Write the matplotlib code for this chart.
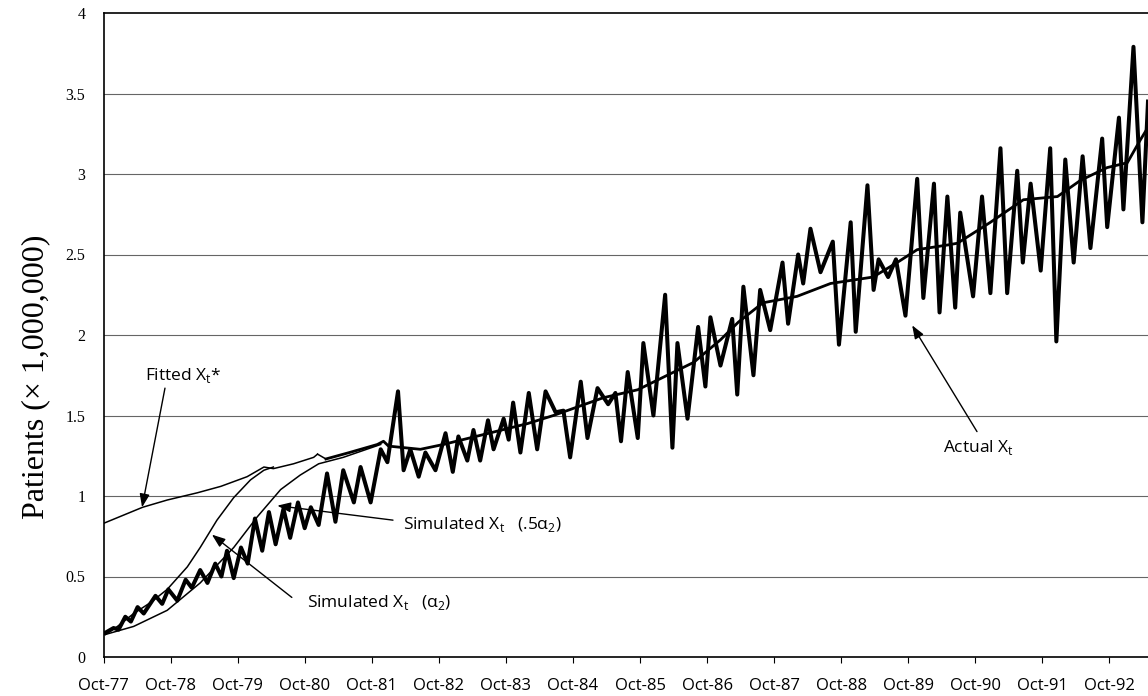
import matplotlib
matplotlib.use("Agg")
import matplotlib.pyplot as plt
import numpy as np

# months since Oct-77
actual_m = [0.3, 1.8, 2.7, 3.9, 4.9, 6.1, 7.2, 9.3, 10.5, 11.6, 13.2, 14.7, 15.8, 17.3, 18.6,
            20.0, 21.1, 22.1, 23.3, 24.6, 25.8, 27.1, 28.4, 29.6, 30.8, 32.2, 33.4, 34.8, 36.0,
            37.1, 38.5, 40.0, 41.5, 42.9, 44.8, 46.0, 47.8, 49.6, 50.8, 52.7, 53.7, 54.9, 56.4,
            57.6, 59.4, 61.2, 62.5, 63.5, 65.1, 66.2, 67.4, 68.8, 69.8, 71.6, 72.5, 73.3, 74.6,
            76.1, 77.6, 79.1, 80.9, 82.3, 83.5, 85.4, 86.6, 88.4, 90.3, 91.6, 92.6, 93.8, 95.6,
            96.6, 98.4, 100.5, 101.8, 102.7, 104.5, 106.4, 107.7, 108.6, 110.4, 112.5, 113.4,
            114.5, 116.3, 117.5, 119.3, 121.5, 122.5, 124.3, 125.2, 126.5, 128.3, 130.5, 131.6,
            133.7, 134.6, 136.7, 137.8, 138.7, 140.4, 141.8, 143.5, 145.6, 146.7, 148.6, 149.6,
            151.0, 152.4, 153.3, 155.6, 157.2, 158.7, 160.5, 161.7, 163.5, 164.5, 165.9, 167.7,
            169.4, 170.5, 172.1, 173.6, 175.2, 176.6, 178.7, 179.6, 181.7, 182.5, 184.3, 185.9,
            186.9]
actual_v = [0.15, 0.18, 0.17, 0.25, 0.22, 0.31, 0.27, 0.38, 0.33, 0.42, 0.35, 0.48, 0.43, 0.54, 0.46,
            0.58, 0.50, 0.66, 0.49, 0.68, 0.58, 0.86, 0.66, 0.90, 0.70, 0.92, 0.74, 0.96, 0.80,
            0.93, 0.82, 1.14, 0.84, 1.16, 0.96, 1.18, 0.96, 1.29, 1.21, 1.65, 1.16, 1.29, 1.12,
            1.27, 1.16, 1.39, 1.15, 1.37, 1.22, 1.41, 1.22, 1.47, 1.29, 1.48, 1.35, 1.58, 1.27,
            1.64, 1.29, 1.65, 1.52, 1.53, 1.24, 1.71, 1.36, 1.67, 1.57, 1.64, 1.34, 1.77, 1.36,
            1.95, 1.50, 2.25, 1.30, 1.95, 1.48, 2.05, 1.68, 2.11, 1.81, 2.10, 1.63,
            2.30, 1.75, 2.28, 2.03, 2.45, 2.07, 2.50, 2.32, 2.66, 2.39, 2.58, 1.94,
            2.70, 2.02, 2.93, 2.28, 2.47, 2.36, 2.47, 2.12, 2.97, 2.23, 2.94, 2.14,
            2.86, 2.17, 2.76, 2.24, 2.86, 2.26, 3.16, 2.26, 3.02, 2.45, 2.94, 2.40,
            3.16, 1.96, 3.09, 2.45, 3.11, 2.54, 3.22, 2.67, 3.35, 2.78, 3.79, 2.70,
            3.45]

fitted_m = [0.0, 7.0, 11.4, 16.8, 21.0, 25.7, 28.7, 30.4, 34.0, 37.6, 38.3, 39.8, 44.0, 49.0,
            50.1, 51.0, 56.7, 60.8, 67.8, 75.9, 80.5, 89.4, 95.6, 100.3, 105.6, 110.4, 113.6,
            118.0, 124.1, 130.1, 137.7, 142.0, 145.6, 151.2, 152.8, 158.7, 164.6, 170.7, 174.8,
            179.6, 183.2, 185.5, 186.9]
fitted_v = [0.83, 0.93, 0.975, 1.02, 1.06, 1.12, 1.18, 1.17, 1.20, 1.24, 1.26, 1.23, 1.27, 1.32,
            1.34, 1.31, 1.29, 1.32, 1.38, 1.45, 1.50, 1.61, 1.66, 1.74, 1.83, 1.97, 2.08,
            2.20, 2.24, 2.32, 2.36, 2.45, 2.53, 2.56, 2.57, 2.70, 2.84, 2.86, 2.96,
            3.04, 3.07, 3.21, 3.29]

sim_a2_m = [0.35, 2.5, 5.4, 8.5, 11.4, 15.0, 17.3, 20.3, 23.3, 26.3, 28.7, 30.4]
sim_a2_v = [0.14, 0.19, 0.27, 0.34, 0.42, 0.56, 0.68, 0.85, 0.99, 1.10, 1.16, 1.18]

sim_half_m = [0.35, 5.4, 11.4, 17.3, 23.3, 27.5, 31.7, 35.2, 38.5, 42.9, 49.6]
sim_half_v = [0.14, 0.19, 0.29, 0.46, 0.68, 0.87, 1.04, 1.13, 1.20, 1.24, 1.32]

tick_labels = ["Oct-77", "Oct-78", "Oct-79", "Oct-80", "Oct-81", "Oct-82", "Oct-83", "Oct-84",
               "Oct-85", "Oct-86", "Oct-87", "Oct-88", "Oct-89", "Oct-90", "Oct-91", "Oct-92"]

fig = plt.figure(figsize=(11.48, 6.96), dpi=100)
ax = fig.add_axes([103.5 / 1148, 39 / 696, 1044.5 / 1148, 644 / 696])

for g in [0.5, 1, 1.5, 2, 2.5, 3, 3.5]:
    ax.axhline(g, color="#666666", lw=0.8, zorder=1)

fm = np.array(fitted_m)
fv = np.array(fitted_v)
thin = fm <= 38.3
ax.plot(fm[thin], fv[thin], color="black", lw=1.1, zorder=3)
ax.plot(fm[~thin], fv[~thin], color="black", lw=2.0, zorder=3)
ax.plot([fm[thin][-1], fm[~thin][0]], [fv[thin][-1], fv[~thin][0]], color="black", lw=1.1, zorder=3)
ax.plot(sim_a2_m, sim_a2_v, color="black", lw=1.1, zorder=3)
ax.plot(sim_half_m, sim_half_v, color="black", lw=1.1, zorder=3)
ax.plot(actual_m, actual_v, color="black", lw=2.9, solid_joinstyle="round", zorder=4)

ax.set_xlim(0, 186.9)
ax.set_ylim(0, 4)
ax.set_xticks(np.arange(0, 181, 12))
ax.set_xticklabels(tick_labels, fontfamily="Open Sans", fontsize=12)
ax.set_yticks([0, 0.5, 1, 1.5, 2, 2.5, 3, 3.5, 4])
ax.set_yticklabels(["0", "0.5", "1", "1.5", "2", "2.5", "3", "3.5", "4"],
                   fontfamily="Liberation Serif", fontsize=11.5)
ax.tick_params(axis="x", direction="out", length=4, width=0.8, pad=11)
ax.tick_params(axis="y", length=0, pad=13)
ax.spines["right"].set_visible(False)
for s in ["left", "bottom", "top"]:
    ax.spines[s].set_linewidth(1.2)

fig.text(36 / 1148, 0.458, "Patients (\u00d7 1,000,000)", rotation=90, ha="center", va="center",
         fontfamily="Liberation Serif", fontsize=23)

arrow = dict(arrowstyle="-|>,head_length=0.8,head_width=0.3", color="black", lw=1.0,
             shrinkA=0, shrinkB=0)
tfont = dict(fontfamily="Open Sans", fontsize=12.5, va="center", ha="left")

ax.text(7.4, 1.75, "Fitted X$_\\mathregular{t}$*", **tfont)
ax.annotate("", xy=(6.9, 0.93), xytext=(11.0, 1.67), arrowprops=arrow)

ax.text(53.6, 0.82, "Simulated X$_\\mathregular{t}$   (.5\u03b1$_\\mathregular{2}$)", **tfont)
ax.annotate("", xy=(31.1, 0.94), xytext=(51.8, 0.85), arrowprops=arrow)

ax.text(36.4, 0.34, "Simulated X$_\\mathregular{t}$   (\u03b1$_\\mathregular{2}$)", **tfont)
ax.annotate("", xy=(19.4, 0.76), xytext=(33.7, 0.37), arrowprops=arrow)

ax.text(150.2, 1.30, "Actual X$_\\mathregular{t}$", **tfont)
ax.annotate("", xy=(144.7, 2.06), xytext=(156.3, 1.40), arrowprops=arrow)

fig.savefig("out.png", dpi=100)
